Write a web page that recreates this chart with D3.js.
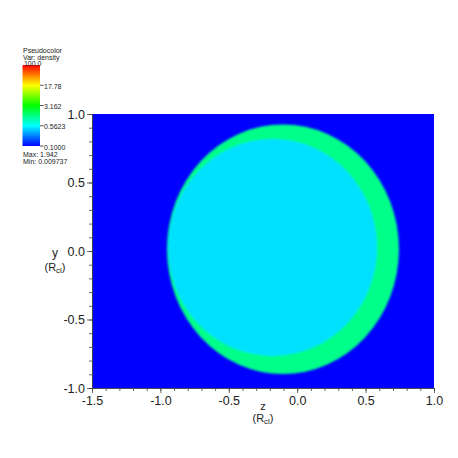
<!DOCTYPE html>
<html>
<head>
<meta charset="utf-8">
<script src="https://cdn.jsdelivr.net/npm/d3@7"></script>
<style>
  html, body { margin: 0; padding: 0; background: #fff; }
  text { font-family: "Liberation Sans", Arial, sans-serif; }
</style>
</head>
<body>
<div id="chart"></div>
<script>
// colour bar (log scale, density)
const barTicks = [0.1, 0.5623, 3.162, 17.78, 100.0];
const barTickLabels = ["0.1000", "0.5623", "3.162", "17.78", "100.0"];
const rangeMax = 1.942;
const rangeMin = 0.009737;

// axes
const zTicks = [-1.5, -1.0, -0.5, 0.0, 0.5, 1.0];
const yTicks = [-1.0, -0.5, 0.0, 0.5, 1.0];
const zMinor = d3.range(-15, 11).map((d) => d / 10);
const yMinor = d3.range(-10, 11).map((d) => d / 10);

// density regions, drawn back to front (ellipses in z / y units)
const regionNames = ["shell", "cloud"];
const regionDensity = [1.25, 0.457];
const regionCenterZ = [-0.104, -0.18];
const regionCenterY = [0.013, 0.026];
const regionRadiusZ = [0.848, 0.763];
const regionRadiusY = [0.911, 0.792];

const svgWidth = 458;
const svgHeight = 458;

const svg = d3
  .select("#chart")
  .append("svg")
  .attr("width", svgWidth)
  .attr("height", svgHeight)
  .style("background", "#fff");

const x = d3.scaleLinear().domain([-1.5, 1.0]).range([92, 434]);
const y = d3.scaleLinear().domain([-1.0, 1.0]).range([388, 114]);

// ParaView style rainbow: blue -> cyan -> green -> yellow -> red
const tScale = d3.scaleLog().domain([0.1, 100]).range([0, 1]).clamp(true);
const rainbow = (t) => d3.hsl(240 * (1 - t), 1, 0.5).formatHex();
const colorOf = (v) => rainbow(tScale(v));

// plain hyphen for negatives, like the original
const fmt = (d) => d3.format(".1f")(d).replace("\u2212", "-");

const defs = svg.append("defs");
defs
  .append("clipPath")
  .attr("id", "plot-clip")
  .append("rect")
  .attr("x", x(-1.5))
  .attr("y", y(1))
  .attr("width", x(1) - x(-1.5))
  .attr("height", y(-1) - y(1));

defs
  .append("filter")
  .attr("id", "soft")
  .attr("x", "-10%")
  .attr("y", "-10%")
  .attr("width", "120%")
  .attr("height", "120%")
  .append("feGaussianBlur")
  .attr("stdDeviation", 1.1);

// Plot area
const plot = svg.append("g").attr("clip-path", "url(#plot-clip)");

plot
  .append("rect")
  .attr("x", x(-1.5))
  .attr("y", y(1))
  .attr("width", x(1) - x(-1.5))
  .attr("height", y(-1) - y(1))
  .attr("fill", colorOf(rangeMin));

const regions = regionNames.map((name, i) => ({
  name,
  density: regionDensity[i],
  cz: regionCenterZ[i],
  cy: regionCenterY[i],
  rz: regionRadiusZ[i],
  ry: regionRadiusY[i],
}));

plot
  .append("g")
  .attr("filter", "url(#soft)")
  .selectAll("ellipse")
  .data(regions)
  .join("ellipse")
  .attr("cx", (d) => x(d.cz))
  .attr("cy", (d) => y(d.cy))
  .attr("rx", (d) => x(d.cz + d.rz) - x(d.cz))
  .attr("ry", (d) => y(d.cy) - y(d.cy + d.ry))
  .attr("fill", (d) => colorOf(d.density));

// Axes
const styleAxis = (g) => {
  g.select(".domain").attr("stroke", "#444").attr("stroke-width", 0.8);
  g.selectAll(".tick line").attr("stroke", "#444").attr("stroke-width", 0.8);
  g.selectAll("text")
    .attr("font-family", "Liberation Sans, Arial, sans-serif")
    .attr("font-size", 12.5)
    .attr("fill", "#222");
};

svg
  .append("g")
  .attr("transform", `translate(0, ${y(-1)})`)
  .call(d3.axisBottom(x).tickValues(zMinor).tickSize(3).tickSizeOuter(0).tickFormat(""))
  .call(styleAxis);
svg
  .append("g")
  .attr("transform", `translate(0, ${y(-1)})`)
  .call(
    d3
      .axisBottom(x)
      .tickValues(zTicks)
      .tickSize(5)
      .tickSizeOuter(0)
      .tickPadding(3)
      .tickFormat(fmt)
  )
  .call(styleAxis);

svg
  .append("g")
  .attr("transform", `translate(${x(-1.5)}, 0)`)
  .call(d3.axisLeft(y).tickValues(yMinor).tickSize(3).tickSizeOuter(0).tickFormat(""))
  .call(styleAxis);
svg
  .append("g")
  .attr("transform", `translate(${x(-1.5)}, 0)`)
  .call(
    d3
      .axisLeft(y)
      .tickValues(yTicks)
      .tickSize(5)
      .tickSizeOuter(0)
      .tickPadding(2)
      .tickFormat(fmt)
  )
  .call(styleAxis);

// Axis titles
const zTitle = svg
  .append("g")
  .attr("text-anchor", "middle")
  .attr("fill", "#222")
  .attr("font-size", 11);
zTitle.append("text").attr("x", 263).attr("y", 410).text("z");
const zUnit = zTitle.append("text").attr("x", 263).attr("y", 422);
zUnit.append("tspan").text("(R");
zUnit.append("tspan").attr("font-size", 8).attr("dy", 2).text("cl");
zUnit.append("tspan").attr("dy", -2).text(")");

const yTitle = svg
  .append("g")
  .attr("text-anchor", "middle")
  .attr("fill", "#222")
  .attr("font-size", 12);
yTitle.append("text").attr("x", 55).attr("y", 257).text("y");
const yUnit = yTitle.append("text").attr("x", 55).attr("y", 271).attr("font-size", 11);
yUnit.append("tspan").text("(R");
yUnit.append("tspan").attr("font-size", 8).attr("dy", 2).text("cl");
yUnit.append("tspan").attr("dy", -2).text(")");

// Colour legend
const barX = 22.5;
const barW = 17.5;
const barScale = d3.scaleLog().domain([0.1, 100]).range([146, 65]);

const grad = defs
  .append("linearGradient")
  .attr("id", "bar-grad")
  .attr("x1", 0)
  .attr("y1", 1)
  .attr("x2", 0)
  .attr("y2", 0);
grad
  .selectAll("stop")
  .data(d3.range(0, 1.0001, 0.05))
  .join("stop")
  .attr("offset", (d) => d)
  .attr("stop-color", (d) => rainbow(d));

const legend = svg
  .append("g")
  .attr("font-family", "Liberation Sans, Arial, sans-serif")
  .attr("font-size", 7)
  .attr("fill", "#222");

legend.append("text").attr("x", 23).attr("y", 53).text("Pseudocolor");
legend.append("text").attr("x", 23).attr("y", 60).text("Var: density");

legend
  .append("rect")
  .attr("x", barX)
  .attr("y", barScale(100))
  .attr("width", barW)
  .attr("height", barScale(0.1) - barScale(100))
  .attr("fill", "url(#bar-grad)");

const barTickData = barTicks.map((v, i) => ({ v, label: barTickLabels[i] }));

legend
  .selectAll("line.bar-tick")
  .data(barTickData.filter((d) => d.v < 100))
  .join("line")
  .attr("class", "bar-tick")
  .attr("x1", barX + barW)
  .attr("x2", barX + barW + 3.5)
  .attr("y1", (d) => barScale(d.v))
  .attr("y2", (d) => barScale(d.v))
  .attr("stroke", "#222")
  .attr("stroke-width", 0.8);

legend
  .selectAll("text.bar-label")
  .data(barTickData)
  .join("text")
  .attr("class", "bar-label")
  .attr("text-anchor", (d) => (d.v >= 100 ? "end" : "start"))
  .attr("x", (d) => (d.v >= 100 ? barX + barW + 1.5 : barX + barW + 4))
  .attr("y", (d) => (d.v >= 100 ? barScale(d.v) + 1 : barScale(d.v) + 3.5))
  .text((d) => d.label);

legend.append("text").attr("x", 23).attr("y", 157).text(`Max: ${rangeMax}`);
legend.append("text").attr("x", 23).attr("y", 163.5).text(`Min: ${rangeMin}`);
</script>
</body>
</html>
